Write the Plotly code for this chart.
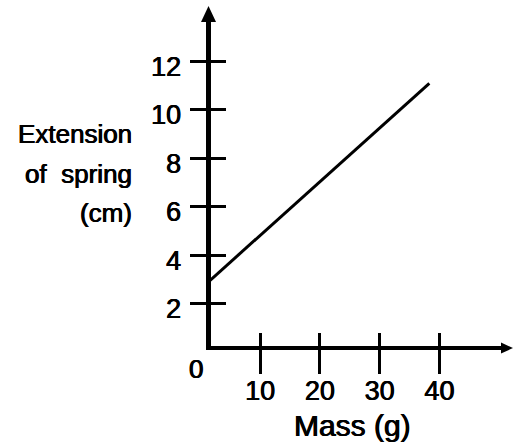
import plotly.graph_objects as go

# ---- data ----
mass_g = [1.35, 38.3]            # start / end of the drawn line (g)
extension_cm = [2.9, 11.1]       # extension of spring (cm)
x_ticks = [10, 20, 30, 40]
x_tick_text = ["10", "20", "30", "40"]
y_ticks = [2, 4, 6, 8, 10, 12]
y_tick_text = ["2", "4", "6", "8", "10", "12"]

W, H = 514, 445
FONT = "Liberation Sans, Arial, sans-serif"
INK = "black"
HEAVY = "0.4px 0 0 #000, -0.4px 0 0 #000"   # slightly heavier strokes

# axis extents (data units)
X_RANGE = [1.69, 50.96]
Y_RANGE = [0.248, 13.80]
X_DOMAIN = [210.5 / W, 505 / W]
Y_DOMAIN = [1 - 346 / H, 1 - 18 / H]


def px(x):
    return x / W


def py(y):
    return 1 - y / H


def font(size):
    return dict(family=FONT, size=size, color=INK, shadow=HEAVY)


fig = go.Figure()

# straight-line relationship
fig.add_trace(go.Scatter(
    x=mass_g, y=extension_cm, mode="lines",
    line=dict(color=INK, width=3), cliponaxis=False,
    showlegend=False, hoverinfo="skip",
))
# companion trace so the overlaid tick axes are rendered
fig.add_trace(go.Scatter(x=[None], y=[None], xaxis="x2", yaxis="y2",
                         showlegend=False, hoverinfo="skip"))

fig.update_layout(
    width=W, height=H,
    margin=dict(l=0, r=0, t=0, b=0),
    paper_bgcolor="white", plot_bgcolor="white",
    showlegend=False,
    xaxis=dict(
        domain=X_DOMAIN, range=X_RANGE, anchor="y",
        showgrid=False, zeroline=False,
        showline=True, linecolor=INK, linewidth=4,
        ticks="outside", ticklen=24, tickwidth=3, tickcolor=INK,
        tickvals=x_ticks, ticktext=x_tick_text,
        tickfont=font(27), ticklabelstandoff=-6,
    ),
    yaxis=dict(
        domain=Y_DOMAIN, range=Y_RANGE, anchor="x",
        showgrid=False, zeroline=False,
        showline=True, linecolor=INK, linewidth=5,
        ticks="outside", ticklen=16, tickwidth=3, tickcolor=INK,
        tickvals=y_ticks, ticktext=y_tick_text,
        tickfont=font(27), ticklabelshift=5, ticklabelstandoff=3,
    ),
    xaxis2=dict(
        domain=X_DOMAIN, range=X_RANGE, anchor="y2", overlaying="x",
        showgrid=False, zeroline=False, showline=False,
        ticks="inside", ticklen=13, tickwidth=3, tickcolor=INK,
        tickvals=x_ticks, showticklabels=False,
    ),
    yaxis2=dict(
        domain=Y_DOMAIN, range=Y_RANGE, anchor="x2", overlaying="y",
        showgrid=False, zeroline=False, showline=False,
        ticks="inside", ticklen=15, tickwidth=3, tickcolor=INK,
        tickvals=y_ticks, showticklabels=False,
    ),
)

# arrow heads at the ends of both axes
y_axis_px, x_axis_px = 208.5, 348
fig.add_shape(type="path", xref="paper", yref="paper",
              path=(f"M {px(y_axis_px)},{py(6)} L {px(y_axis_px - 7.5)},{py(22)} "
                    f"L {px(y_axis_px + 7.5)},{py(22)} Z"),
              fillcolor=INK, line=dict(width=0))
fig.add_shape(type="path", xref="paper", yref="paper",
              path=(f"M {px(513)},{py(x_axis_px)} L {px(501)},{py(x_axis_px - 5.5)} "
                    f"L {px(501)},{py(x_axis_px + 5.5)} Z"),
              fillcolor=INK, line=dict(width=0))

ann = []
# y-axis title, right aligned in three lines
for text, y in [("Extension", 134), ("of\u00a0\u00a0spring", 174), ("(cm)", 213)]:
    ann.append(dict(text=text, x=px(134), y=py(y), xref="paper", yref="paper",
                    xanchor="right", yanchor="middle", showarrow=False,
                    font=font(26)))
# origin label
ann.append(dict(text="0", x=px(195.5), y=py(369), xref="paper", yref="paper",
                xanchor="center", yanchor="middle", showarrow=False,
                font=font(26)))
# x-axis title
ann.append(dict(text="Mass (g)", x=px(352), y=py(425), xref="paper", yref="paper",
                xanchor="center", yanchor="middle", showarrow=False,
                font=font(30)))
fig.update_layout(annotations=ann)

fig.write_html("out.html")
